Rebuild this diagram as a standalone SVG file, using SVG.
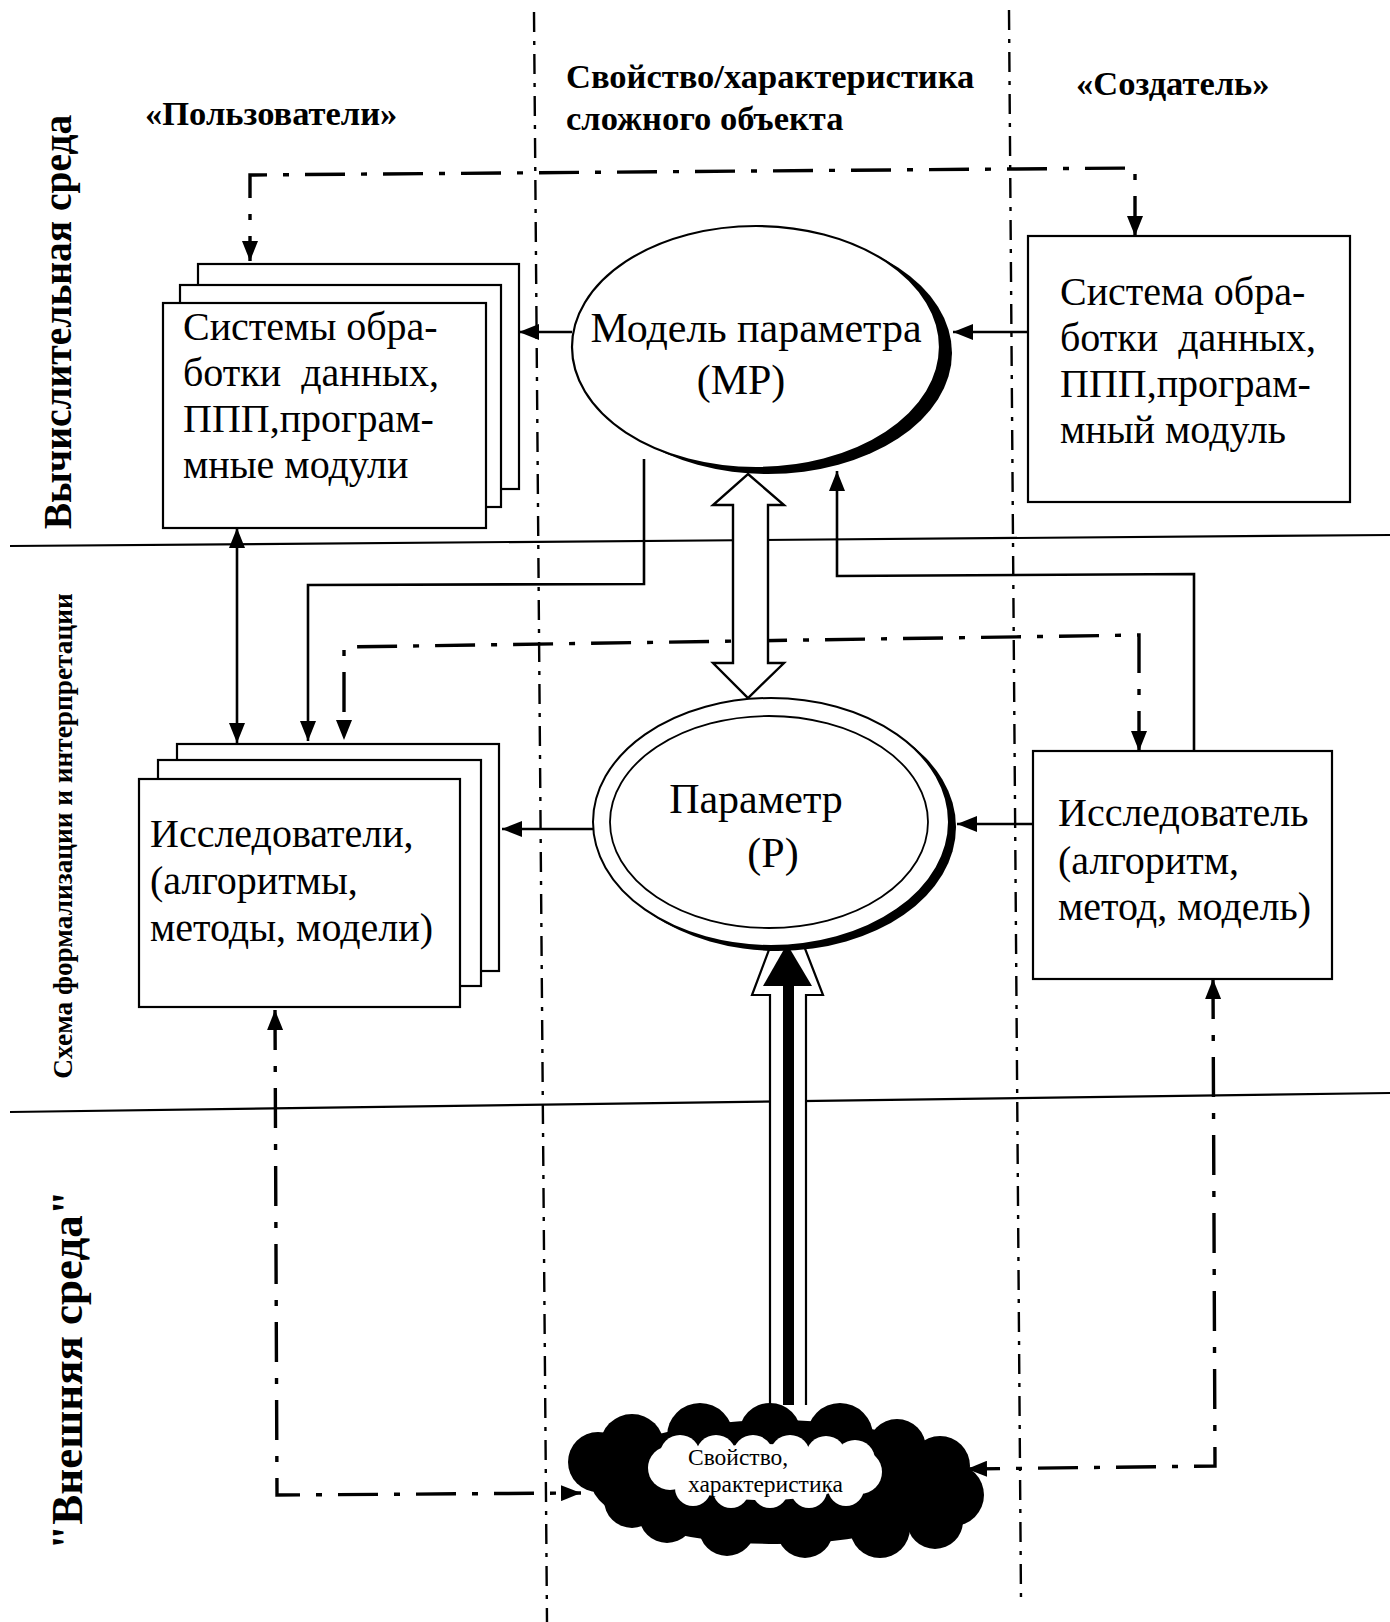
<svg xmlns="http://www.w3.org/2000/svg" width="1390" height="1622" viewBox="0 0 1390 1622">
  <style>
    text { font-family: "Liberation Serif", "Times New Roman", serif; fill: #000; }
    .hdr { font-size: 34.5px; font-weight: bold; }
    .body { font-size: 40px; }
    .big { font-size: 42px; }
    .side { font-weight: bold; text-anchor: middle; }
    .box { fill: #fff; stroke: #000; stroke-width: 2.2; }
    .sep { fill: none; stroke: #000; stroke-width: 2.4; stroke-dasharray: 20 9 4 9; }
    .hline { fill: none; stroke: #000; stroke-width: 2.2; }
    .solid { fill: none; stroke: #000; stroke-width: 2.6; }
    .dd { fill: none; stroke: #000; stroke-width: 3.4; stroke-dasharray: 40 16 6 16; }
  </style>
  <defs>
    <marker id="ah" viewBox="0 0 20 16" refX="20" refY="8" markerWidth="20" markerHeight="16" markerUnits="userSpaceOnUse" orient="auto-start-reverse">
      <path d="M0,0 L20,8 L0,16 Z" fill="#000"/>
    </marker>
  </defs>

  <rect width="1390" height="1622" fill="#fff"/>

  <!-- column separators and zone boundaries -->
  <g id="grid">
    <line class="sep" x1="534" y1="12" x2="547" y2="1622"/>
    <line class="sep" x1="1009" y1="10" x2="1021" y2="1600"/>
    <line class="hline" x1="10" y1="546" x2="1390" y2="535"/>
    <line class="hline" x1="10" y1="1112" x2="1390" y2="1093"/>
  </g>

  <!-- zone and column titles -->
  <g id="titles">
    <text class="hdr" x="145" y="125">«Пользователи»</text>
    <text class="hdr" x="566" y="88">Свойство/характеристика</text>
    <text class="hdr" x="566" y="130">сложного объекта</text>
    <text class="hdr" x="1076" y="95">«Создатель»</text>
    <text class="side" font-size="39.5" transform="translate(71,322) rotate(-90)">Вычислительная среда</text>
    <text class="side" font-size="27.3" transform="translate(72,836) rotate(-90)">Схема формализации и интерпретации</text>
    <text class="side" font-size="45" transform="translate(82,1370) rotate(-90)">"Внешняя среда"</text>
  </g>

  <!-- connectors -->
  <g id="connectors">
    <!-- dash-dot feedback links -->
    <path class="dd" d="M1135,236 L1135,168 L250,175 L250,261" marker-start="url(#ah)" marker-end="url(#ah)"/>
    <path class="dd" d="M1139,751 L1139,635 L344,647 L344,740" marker-start="url(#ah)" marker-end="url(#ah)"/>
    <path class="dd" d="M275,1010 L277,1495 L581,1493" marker-start="url(#ah)" marker-end="url(#ah)"/>
    <path class="dd" d="M1213,979 L1215,1466 L967,1469" marker-start="url(#ah)" marker-end="url(#ah)"/>

    <!-- solid links -->
    <path class="solid" d="M572,332 L519,332" marker-end="url(#ah)"/>
    <path class="solid" d="M1028,332 L953,332" marker-end="url(#ah)"/>
    <path class="solid" d="M237,528 L237,743" marker-start="url(#ah)" marker-end="url(#ah)"/>
    <path class="solid" d="M644,459 L644,584 L308,585 L308,741" marker-end="url(#ah)"/>
    <path class="solid" d="M1194,751 L1194,574 L837,576 L837,471" marker-end="url(#ah)"/>
    <path class="solid" d="M594,829 L502,829" marker-end="url(#ah)"/>
    <path class="solid" d="M1033,824 L957,824" marker-end="url(#ah)"/>

    <!-- hollow two-way arrow MP <-> P -->
    <path d="M748,474 L784,505 L768,505 L768,663 L784,663 L748,698 L713,663 L733,663 L733,505 L713,505 Z" fill="#fff" stroke="#000" stroke-width="2.4" stroke-linejoin="miter"/>

    <!-- heavy arrow from the property cloud up to P -->
    <path d="M770,1405 L770,995 L752,995 L787,902 L823,995 L806,995 L806,1405" fill="#fff" stroke="#000" stroke-width="2.2"/>
    <rect x="783" y="980" width="11" height="425" fill="#000"/>
    <path d="M763,986 L787,944 L812,986 Z" fill="#000"/>
  </g>

  <!-- Systems (users side), stacked -->
  <g id="systems">
    <rect class="box" x="198" y="264" width="321" height="225"/>
    <rect class="box" x="180" y="285" width="321" height="222"/>
    <rect class="box" x="163" y="303" width="323" height="225"/>
    <text class="body" xml:space="preserve" x="183" y="340">Системы обра-</text>
    <text class="body" xml:space="preserve" x="183" y="386">ботки  данных,</text>
    <text class="body" xml:space="preserve" x="183" y="432">ППП,програм-</text>
    <text class="body" xml:space="preserve" x="183" y="478">мные модули</text>
  </g>

  <!-- Model of the parameter -->
  <g id="mp">
    <ellipse cx="768" cy="353" rx="184" ry="121" fill="#000"/>
    <ellipse cx="756" cy="347" rx="184" ry="121" fill="#fff" stroke="#000" stroke-width="2.2"/>
    <text class="big" x="756" y="342" text-anchor="middle">Модель параметра</text>
    <text class="big" x="741" y="394" text-anchor="middle">(МР)</text>
  </g>

  <!-- Creator's system -->
  <g id="creator">
    <rect class="box" x="1028" y="236" width="322" height="266"/>
    <text class="body" xml:space="preserve" x="1060" y="305">Система обра-</text>
    <text class="body" xml:space="preserve" x="1060" y="351">ботки  данных,</text>
    <text class="body" xml:space="preserve" x="1060" y="397">ППП,програм-</text>
    <text class="body" xml:space="preserve" x="1060" y="443">мный модуль</text>
  </g>

  <!-- Researchers (users side), stacked -->
  <g id="researchers">
    <rect class="box" x="177" y="744" width="322" height="227"/>
    <rect class="box" x="158" y="760" width="323" height="226"/>
    <rect class="box" x="139" y="779" width="321" height="228"/>
    <text class="body" x="150" y="847">Исследователи,</text>
    <text class="body" x="150" y="894">(алгоритмы,</text>
    <text class="body" x="150" y="941">методы, модели)</text>
  </g>

  <!-- Parameter -->
  <g id="p">
    <ellipse cx="778" cy="827" rx="178" ry="124" fill="#000"/>
    <ellipse cx="771" cy="822" rx="178" ry="124" fill="#fff" stroke="#000" stroke-width="2"/>
    <ellipse cx="769" cy="822" rx="159" ry="106" fill="none" stroke="#000" stroke-width="1.8"/>
    <text class="big" x="756" y="813" text-anchor="middle">Параметр</text>
    <text class="big" x="773" y="867" text-anchor="middle">(Р)</text>
  </g>

  <!-- Researcher (creator side) -->
  <g id="researcher">
    <rect class="box" x="1033" y="751" width="299" height="228"/>
    <text class="body" x="1058" y="826">Исследователь</text>
    <text class="body" x="1058" y="874">(алгоритм,</text>
    <text class="body" x="1058" y="920">метод, модель)</text>
  </g>

  <!-- Property cloud in the outer environment -->
  <g id="cloud">
    <g fill="#000">
      <ellipse cx="776" cy="1482" rx="185" ry="62"/>
      <circle cx="632" cy="1446" r="32"/>
      <circle cx="700" cy="1436" r="33"/>
      <circle cx="770" cy="1434" r="31"/>
      <circle cx="840" cy="1436" r="33"/>
      <circle cx="897" cy="1448" r="29"/>
      <circle cx="940" cy="1466" r="30"/>
      <circle cx="598" cy="1462" r="30"/>
      <circle cx="953" cy="1495" r="31"/>
      <circle cx="935" cy="1521" r="28"/>
      <circle cx="880" cy="1528" r="30"/>
      <circle cx="805" cy="1530" r="28"/>
      <circle cx="727" cy="1528" r="28"/>
      <circle cx="667" cy="1515" r="28"/>
      <circle cx="632" cy="1500" r="28"/>
    </g>
    <g fill="#fff">
      <ellipse cx="765" cy="1472" rx="100" ry="28"/>
      <circle cx="670" cy="1468" r="22"/>
      <circle cx="860" cy="1472" r="22"/>
      <circle cx="680" cy="1455" r="20"/>
      <circle cx="716" cy="1455" r="20"/>
      <circle cx="753" cy="1455" r="20"/>
      <circle cx="790" cy="1455" r="20"/>
      <circle cx="826" cy="1456" r="20"/>
      <circle cx="855" cy="1460" r="20"/>
      <circle cx="693" cy="1488" r="18"/>
      <circle cx="731" cy="1490" r="18"/>
      <circle cx="770" cy="1490" r="18"/>
      <circle cx="809" cy="1490" r="18"/>
      <circle cx="846" cy="1488" r="18"/>
    </g>
    <text x="688" y="1465" font-size="23.5">Свойство,</text>
    <text x="688" y="1492" font-size="23.5">характеристика</text>
  </g>
</svg>
